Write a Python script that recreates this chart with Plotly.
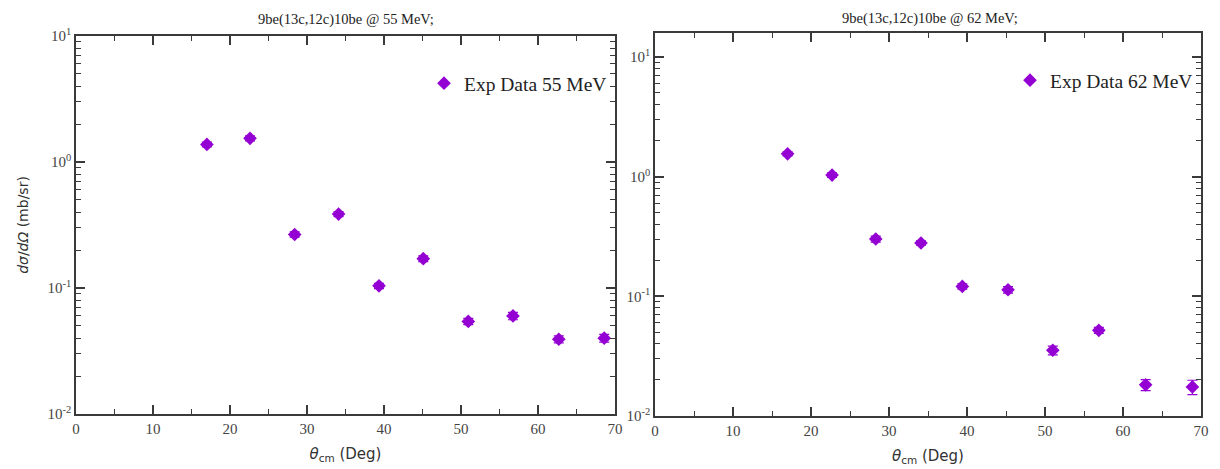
import plotly.graph_objects as go

# ---- data ----
theta_55 = [17.0, 22.6, 28.4, 34.1, 39.35, 45.1, 50.95, 56.75, 62.7, 68.6]
xs_55 = [1.38, 1.54, 0.266, 0.386, 0.104, 0.171, 0.0543, 0.060, 0.0392, 0.040]
err_55 = [0.06, 0.07, 0.013, 0.018, 0.005, 0.009, 0.003, 0.004, 0.0025, 0.0028]

theta_62 = [17.0, 22.7, 28.3, 34.1, 39.4, 45.26, 51.0, 56.9, 62.9, 68.9]
xs_62 = [1.55, 1.03, 0.301, 0.279, 0.121, 0.1135, 0.0354, 0.052, 0.0182, 0.0175]
err_62 = [0.06, 0.045, 0.017, 0.012, 0.006, 0.007, 0.003, 0.003, 0.0019, 0.0024]

titles = ["9be(13c,12c)10be @ 55 MeV;", "9be(13c,12c)10be @ 62 MeV;"]
legend_names = ["Exp Data 55 MeV", "Exp Data 62 MeV"]
y_tickvals = [0.01, 0.1, 1, 10]
y_ticktext = ["10<sup>-2</sup>", "10<sup>-1</sup>", "10<sup>0</sup>", "10<sup>1</sup>"]

COLOR = "#9400D3"
SERIF = "Liberation Serif"
SANS = "DejaVu Sans"
W, H, OFF = 1220, 469, 8  # page body margin offset


def PX(px):
    return (px - OFF) / W


def PY(py):
    return 1 - (py - OFF) / H


fig = go.Figure()

fig.add_trace(go.Scatter(
    x=theta_55, y=xs_55, mode="markers", name=legend_names[0],
    marker=dict(symbol="diamond", size=10.5, color=COLOR),
    error_y=dict(type="data", array=err_55, color=COLOR, thickness=1.2, width=5),
    xaxis="x", yaxis="y", legend="legend", showlegend=True,
))
fig.add_trace(go.Scatter(
    x=theta_62, y=xs_62, mode="markers", name=legend_names[1],
    marker=dict(symbol="diamond", size=10.5, color=COLOR),
    error_y=dict(type="data", array=err_62, color=COLOR, thickness=1.2, width=5),
    xaxis="x2", yaxis="y2", legend="legend2", showlegend=True,
))

axcol = "#3a3a3a"
common_x = dict(
    range=[0, 70], dtick=10, ticks="inside", ticklen=9, tickwidth=1.5,
    tickcolor=axcol, showline=True, linecolor=axcol, linewidth=1.5,
    mirror="ticks", showgrid=False, zeroline=False, automargin=False,
    tickfont=dict(family=SERIF, size=15, color="#444"),
    minor=dict(dtick=5, ticks="inside", ticklen=5, tickcolor=axcol, tickwidth=1.3, showgrid=False),
    title=dict(text="<i>θ</i><sub>cm</sub> (Deg)", font=dict(family=SANS, size=15, color="#333"), standoff=13),
)
common_y = dict(
    type="log", tickvals=y_tickvals, ticktext=y_ticktext, ticks="inside", ticklen=9, tickwidth=1.5,
    tickcolor=axcol, showline=True, linecolor=axcol, linewidth=1.5,
    mirror="ticks", showgrid=False, zeroline=False, automargin=False,
    tickfont=dict(family=SERIF, size=15, color="#444"),
    minor=dict(dtick="D1", ticks="inside", ticklen=5, tickcolor=axcol, tickwidth=1.3, showgrid=False),
)

fig.update_layout(
    width=W, height=H,
    margin=dict(l=0, r=0, t=0, b=0),
    showlegend=True,
    paper_bgcolor="white", plot_bgcolor="white",
    xaxis=dict(domain=[PX(76), PX(615)], anchor="y", **common_x),
    yaxis=dict(domain=[PY(414), PY(36)], anchor="x", range=[-2, 1],
               title=dict(text="<i>dσ</i>/<i>dΩ</i> (mb/sr)", font=dict(family=SANS, size=14, color="#333"), standoff=16),
               **common_y),
    xaxis2=dict(domain=[PX(655), PX(1201)], anchor="y2", **common_x),
    yaxis2=dict(domain=[PY(416), PY(33)], anchor="x2", range=[-2, 1.2], **common_y),
    legend=dict(x=PX(612), y=PY(64), xanchor="right", yanchor="top",
                font=dict(family=SERIF, size=19.5, color="#222"), bgcolor="rgba(0,0,0,0)"),
    legend2=dict(x=PX(1198), y=PY(61), xanchor="right", yanchor="top",
                 font=dict(family=SERIF, size=19.5, color="#222"), bgcolor="rgba(0,0,0,0)"),
    annotations=[
        dict(text=titles[0], x=PX(346), y=PY(9), xref="paper", yref="paper",
             xanchor="center", yanchor="top",
             showarrow=False, font=dict(family=SERIF, size=14.5, color="#222")),
        dict(text=titles[1], x=PX(930), y=PY(8), xref="paper", yref="paper",
             xanchor="center", yanchor="top",
             showarrow=False, font=dict(family=SERIF, size=14.5, color="#222")),
    ],
)

fig.write_html("out.html")
